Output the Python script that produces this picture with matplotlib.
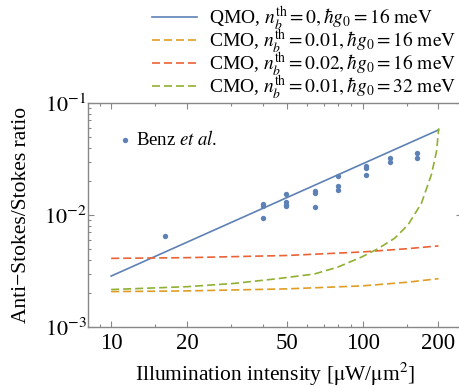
import matplotlib
matplotlib.use("Agg")
import matplotlib.pyplot as plt
from matplotlib.ticker import FixedLocator, NullFormatter, LogLocator

plt.rcParams['font.family'] = ['Liberation Serif', 'DejaVu Serif']
plt.rcParams['mathtext.fontset'] = 'stix'

# ---- data ----
qmo_x = [10, 200]
qmo_y = [0.00285, 0.0575]

cmo1_x = [10, 20, 50, 100, 150, 200]
cmo1_y = [0.00207, 0.00210, 0.00219, 0.00233, 0.00251, 0.00270]

cmo2_x = [10, 20, 50, 100, 150, 200]
cmo2_y = [0.00410, 0.00416, 0.00435, 0.00468, 0.00500, 0.00530]

cmo3_x = [10, 20, 30.8, 45.8, 64.1, 79.4, 98.6, 114.9, 133.9, 151.5, 171, 187.5, 196.4, 200.5]
cmo3_y = [0.00216, 0.00229, 0.00245, 0.00270, 0.00297, 0.00342, 0.00420, 0.00500,
          0.00620, 0.00820, 0.0127, 0.0230, 0.0370, 0.0594]

benz_x = [16.3, 40.2, 40.2, 40.2, 49.4, 49.4, 49.4, 49.4, 64.6, 64.6, 64.6,
          80, 80, 80, 102.8, 102.8, 102.8, 128, 128, 165, 165]
benz_y = [0.00653, 0.0125, 0.0120, 0.0094, 0.0153, 0.0130, 0.0124, 0.0120,
          0.0163, 0.0156, 0.0119, 0.0223, 0.0181, 0.0167, 0.0276, 0.0261,
          0.0228, 0.0325, 0.0299, 0.0360, 0.0325]

labels = [r"QMO, $n_b^{\mathrm{th}}=0,\hbar g_0=16\ \mathrm{meV}$",
          r"CMO, $n_b^{\mathrm{th}}=0.01,\hbar g_0=16\ \mathrm{meV}$",
          r"CMO, $n_b^{\mathrm{th}}=0.02,\hbar g_0=16\ \mathrm{meV}$",
          r"CMO, $n_b^{\mathrm{th}}=0.01,\hbar g_0=32\ \mathrm{meV}$"]
xticks = [10, 20, 50, 100, 200]
xminor = [9, 15, 30, 40, 60, 70, 80, 90, 150]

blue = '#5E81B5'
orange = '#E19C24'
red = '#EB6235'
green = '#8FB032'

fig = plt.figure(figsize=(4.6, 3.87), dpi=100)
ax = fig.add_axes([88/460, 1-327/387, (462-88)/460, (327-103)/387])

lw = 1.2
dash = (4.8, 2.4)
h0, = ax.plot(qmo_x, qmo_y, color=blue, lw=lw)
h1, = ax.plot(cmo1_x, cmo1_y, color=orange, lw=lw, dashes=dash)
h2, = ax.plot(cmo2_x, cmo2_y, color=red, lw=lw, dashes=dash)
h3, = ax.plot(cmo3_x, cmo3_y, color=green, lw=lw, dashes=dash)
sc = ax.scatter(benz_x, benz_y, s=15, color=blue, zorder=5, linewidths=0)

ax.set_xscale('log')
ax.set_yscale('log')
ax.set_xlim(8.09, 248)
ax.set_ylim(1e-3, 1e-1)

ax.xaxis.set_major_locator(FixedLocator(xticks))
ax.xaxis.set_minor_locator(FixedLocator(xminor))
ax.xaxis.set_minor_formatter(NullFormatter())
ax.set_xticklabels([str(t) for t in xticks])
ax.yaxis.set_major_locator(FixedLocator([1e-3, 1e-2, 1e-1]))
ax.set_yticklabels([r"$10^{-3}$", r"$10^{-2}$", r"$10^{-1}$"])
ax.yaxis.set_minor_locator(LogLocator(base=10, subs=range(2, 10)))
ax.yaxis.set_minor_formatter(NullFormatter())

for s in ax.spines.values():
    s.set_color('#888888')
    s.set_linewidth(1.0)
ax.tick_params(which='both', direction='in', top=True, right=True, color='#888888',
               labelsize=16.5, width=0.8)
ax.tick_params(axis='y', which='major', labelsize=16, pad=1)
ax.tick_params(which='major', length=4)
ax.tick_params(which='minor', length=2.2)
ax.tick_params(axis='x', which='major', pad=4)

ax.set_xlabel(r"Illumination intensity [$\mathrm{\mu}$W/$\mathrm{\mu}$m$^2$]", fontsize=15.5, labelpad=5)
ax.set_ylabel("Anti\u2212Stokes/Stokes ratio", fontsize=15.5, labelpad=9)

ax.legend([sc], [r"Benz $\mathit{et\ al.}$"], loc='upper left', bbox_to_anchor=(0.03, 0.912),
          frameon=False, fontsize=13.5, handletextpad=-0.45, markerscale=1.0, borderaxespad=0)

fig.legend([h0, h1, h2, h3], labels, loc='upper right', bbox_to_anchor=(1.0, 1.0),
           frameon=False, fontsize=14, handlelength=2.3, handletextpad=0.6,
           labelspacing=-0.25, borderaxespad=0.1, borderpad=0.1)

fig.savefig('out.png', dpi=100)
